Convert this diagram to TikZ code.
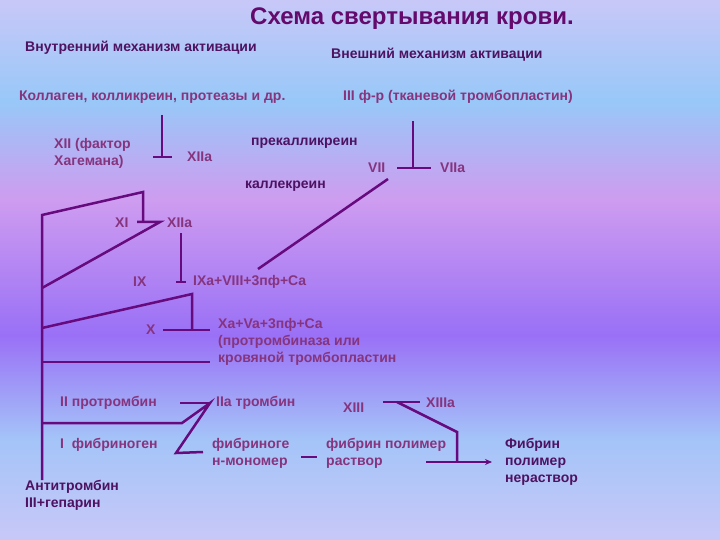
\documentclass[tikz,border=0pt]{standalone}
\usepackage{fontspec}
\setmainfont{Liberation Sans}
\usetikzlibrary{positioning,calc,arrows.meta}

\definecolor{labelcol}{HTML}{86347E}
\definecolor{darkcol}{HTML}{4E1262}
\definecolor{titlecol}{HTML}{640A6C}
\definecolor{linecol}{HTML}{660A7E}
\definecolor{bgA}{HTML}{C8C8F8}
\definecolor{bgB}{HTML}{A4C4F8}
\definecolor{bgC}{HTML}{9A70F6}
\definecolor{bgD}{HTML}{CE9CF0}
\definecolor{bgE}{HTML}{98C8F8}
\pgfdeclareverticalshading{bgshade}{100bp}{color(0bp)=(bgA); color(25bp)=(bgA); color(34.3bp)=(bgB); color(44bp)=(bgC); color(56.5bp)=(bgD); color(65.7bp)=(bgE); color(75bp)=(bgA); color(100bp)=(bgA)}

\tikzset{
  lbl/.style={anchor=west,inner sep=0pt,text=labelcol,align=left,font=\fontsize{14}{17}\selectfont\bfseries},
  dark/.style={anchor=west,inner sep=0pt,text=darkcol,align=left,font=\fontsize{14}{17}\selectfont\bfseries},
  conn/.style={draw=linecol,line width=2.5pt}
}

\begin{document}
\begin{tikzpicture}[x=1pt,y=-1pt]
\useasboundingbox (0,0) rectangle (720,540);
\shade[shading=bgshade] (0,0) rectangle (720,540);

% headings
\node[text=titlecol,font=\fontsize{24}{28}\selectfont\bfseries] (title) at (412,19) {Схема свертывания крови.};
\node[dark] (inner) at (25,48) {Внутренний механизм активации};
\node[dark] (outer) at (331,55) {Внешний механизм активации};
\node[lbl] (collagen) at (19,97) {Коллаген, колликреин, протеазы и др.};
\node[lbl] (tissue) at (343,97) {III ф-р (тканевой тромбопластин)};

% contact activation
\node[lbl] (f12) at (54,153) {XII (фактор\\Хагемана)};
\node[lbl] (f12a) at (187,157) {XIIa};
\node[dark] (prekal) at (251,143) {прекалликреин};
\node[dark] (kallek) at (245,186) {каллекреин};
\node[lbl] (f7) at (368,168) {VII};
\node[lbl] (f7a) at (440,168) {VIIa};
\node[lbl] (f11) at (115,223) {XI};
\node[lbl] (f11a) at (167,223) {XIIa};
\node[lbl] (f9) at (133,282) {IX};
\node[lbl] (f9a) at (193,282) {IXa+VIII+3пф+Ca};
\node[lbl] (f10) at (146,330) {X};
\node[lbl] (f10a) at (218,342) {Xa+Va+3пф+Ca\\(протромбиназа или\\кровяной тромбопластин};

% common pathway
\node[lbl] (f2) at (60,403) {II протромбин};
\node[lbl] (f2a) at (216,403) {IIa тромбин};
\node[lbl] (f13) at (343,408) {XIII};
\node[lbl] (f13a) at (426,403) {XIIIa};
\node[lbl] (f1) at (60,445) {I~~фибриноген};
\node[lbl] (fmono) at (212,453) {фибриноге\\н-мономер};
\node[lbl] (fsol) at (326,453) {фибрин полимер\\раствор};
\node[dark] (finsol) at (505,462) {Фибрин\\полимер\\нераствор};
\node[dark] (anti) at (25,495) {Антитромбин\\III+гепарин};

% bend points
\coordinate (c12top) at (162,115);
\coordinate (c12bar) at (162,157);
\coordinate (c7top) at (413,121);
\coordinate (c7bar) at (413,168);
\coordinate (ckalA) at (388,179);
\coordinate (ckalB) at (258,269);
\coordinate (cmain) at (42,480);
\coordinate (c11a) at (42,215);
\coordinate (c11b) at (143,192);
\coordinate (c11c) at (143,222);
\coordinate (c11d) at (160,222);
\coordinate (c11e) at (42,288);
\coordinate (c9top) at (181,233);
\coordinate (c9bar) at (181,282);
\coordinate (c10a) at (42,328);
\coordinate (c10b) at (192,294);
\coordinate (c10c) at (192,330);
\coordinate (cpro) at (42,362);
\coordinate (cpro2) at (210,362);
\coordinate (c2a) at (42,423);
\coordinate (c2b) at (182,423);
\coordinate (c2c) at (210,403);
\coordinate (c1a) at (176,453);
\coordinate (c1b) at (203,452);
\coordinate (c13a) at (397,402);
\coordinate (c13b) at (457,432);
\coordinate (c13c) at (457,462);

% connectors
\draw[conn] (c12top) -- (c12bar);
\draw[conn] ([xshift=-9]c12bar) -- ([xshift=10]c12bar);
\draw[conn] (c7top) -- (c7bar);
\draw[conn] ([xshift=-16]c7bar) -- ([xshift=18]c7bar);
\draw[conn] (ckalA) -- (ckalB);
\draw[conn] (cmain) -- (c11a) -- (c11b) -- (c11c);
\draw[conn] ([xshift=-6]c11c) -- (c11d) -- (c11e);
\draw[conn] (c9top) -- (c9bar);
\draw[conn] ([xshift=-5]c9bar) -- ([xshift=5]c9bar);
\draw[conn] (c10a) -- (c10b) -- (c10c);
\draw[conn] ([xshift=-29]c10c) -- ([xshift=18]c10c);
\draw[conn] (cpro) -- (cpro2);
\draw[conn] ([xshift=-30]c2c) -- (c2c);
\draw[conn] (c2a) -- (c2b) -- (c2c) -- (c1a) -- (c1b);
\draw[conn] ([xshift=-25]fsol.west |- 0,457) -- ([xshift=-9]fsol.west |- 0,457);
\draw[conn] ([xshift=-14]c13a) -- ([xshift=23]c13a);
\draw[conn] (c13a) -- (c13b) -- (c13c);
\draw[conn,-{Stealth[length=7pt,width=6pt]}] ([xshift=-31]c13c) -- ([xshift=-13]finsol.west |- c13c);
\end{tikzpicture}
\end{document}
